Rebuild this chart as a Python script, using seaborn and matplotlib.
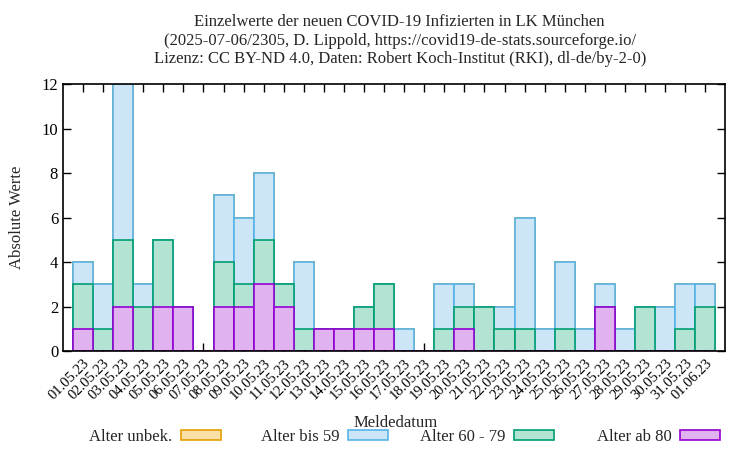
import matplotlib
matplotlib.use("Agg")
import matplotlib.pyplot as plt
import seaborn as sns
import pandas as pd
from matplotlib.patches import Patch

dates = ["01.05.23", "02.05.23", "03.05.23", "04.05.23", "05.05.23", "06.05.23", "07.05.23",
         "08.05.23", "09.05.23", "10.05.23", "11.05.23", "12.05.23", "13.05.23", "14.05.23",
         "15.05.23", "16.05.23", "17.05.23", "18.05.23", "19.05.23", "20.05.23", "21.05.23",
         "22.05.23", "23.05.23", "24.05.23", "25.05.23", "26.05.23", "27.05.23", "28.05.23",
         "29.05.23", "30.05.23", "31.05.23", "01.06.23"]
alter_unbek = [0] * 32
alter_bis_59 = [1, 2, 7, 1, 0, 0, 0, 3, 3, 3, 0, 3, 0, 0, 0, 0, 1, 0, 2, 1, 0, 1, 5, 1, 3, 1, 1, 1, 0, 2, 2, 1]
alter_60_79 = [2, 1, 3, 2, 3, 0, 0, 2, 1, 2, 1, 1, 0, 0, 1, 2, 0, 0, 1, 1, 2, 1, 1, 0, 1, 0, 0, 0, 2, 0, 1, 2]
alter_ab_80 = [1, 0, 2, 0, 2, 2, 0, 2, 2, 3, 2, 0, 1, 1, 1, 1, 0, 0, 0, 1, 0, 0, 0, 0, 0, 0, 2, 0, 0, 0, 0, 0]

labels = ["Alter unbek.", "Alter bis 59", "Alter 60 - 79", "Alter ab 80"]
fills = ["#f9e0a8", "#cce6f7", "#b3e3d3", "#e0b3f0"]
edges = ["#e69f00", "#56b4e9", "#009e73", "#9400d3"]

# cumulative heights (bars overlap from zero)
cum_80 = alter_ab_80
cum_60 = [a + b for a, b in zip(alter_60_79, cum_80)]
cum_59 = [a + b for a, b in zip(alter_bis_59, cum_60)]
cum_all = [a + b for a, b in zip(alter_unbek, cum_59)]

df = pd.DataFrame({"Meldedatum": dates, "unbek": cum_all, "b59": cum_59,
                   "b6079": cum_60, "b80": cum_80})

sns.set_theme(style="ticks")
plt.rcParams["font.family"] = ["Liberation Serif", "DejaVu Serif"]

fig = plt.figure(figsize=(7.5, 4.5), dpi=100)
ax = fig.add_axes([0.084, 0.22, 0.883, 0.593])
ax.set_axisbelow(True)

for col, fc, ec in zip(["unbek", "b59", "b6079", "b80"], fills, edges):
    sns.barplot(data=df, x="Meldedatum", y=col, order=dates, color=fc, width=1.0,
                edgecolor=ec, linewidth=1.2, saturation=1, ax=ax, zorder=2)

ax.set_xlim(-1, 32)
ax.set_ylim(0, 12)
ax.set_yticks(range(0, 13, 2))
ax.set_xticks(range(len(dates)))
ax.set_xticklabels(dates, rotation=45, ha="right", rotation_mode="anchor")
ax.tick_params(axis="both", direction="in", top=True, right=True, length=6, width=1, colors="black",
               labelsize=12)
ax.tick_params(axis="x", pad=4, labelsize=10.5)
for s in ax.spines.values():
    s.set_linewidth(1.2)
    s.set_color("black")
    s.set_zorder(3)
ax.set_ylabel("Absolute Werte", fontsize=12, labelpad=12)
ax.set_xlabel("")
fig.text(0.527, 1 - 423 / 450, "Meldedatum", ha="center", va="center", fontsize=12)

fig.text(0.533, 1 - 22 / 450, "Einzelwerte der neuen COVID-19 Infizierten in LK München",
         ha="center", va="center", fontsize=12)
fig.text(0.533, 1 - 41 / 450, "(2025-07-06/2305, D. Lippold, https://covid19-de-stats.sourceforge.io/",
         ha="center", va="center", fontsize=12)
fig.text(0.533, 1 - 59 / 450, "Lizenz: CC BY-ND 4.0, Daten: Robert Koch-Institut (RKI), dl-de/by-2-0)",
         ha="center", va="center", fontsize=12)

swatch_ends = [221, 388, 554, 720]
for lab, f, e, xe in zip(labels, fills, edges, swatch_ends):
    h = Patch(facecolor=f, edgecolor=e, linewidth=1.2)
    fig.legend([h], [lab], loc="center right", bbox_to_anchor=(xe / 750, 1 - 437 / 450),
               frameon=False, markerfirst=False, fontsize=12, handlelength=2.4,
               handleheight=0.5, handletextpad=0.5, borderaxespad=0, borderpad=0)

fig.savefig("out.png", dpi=100)
